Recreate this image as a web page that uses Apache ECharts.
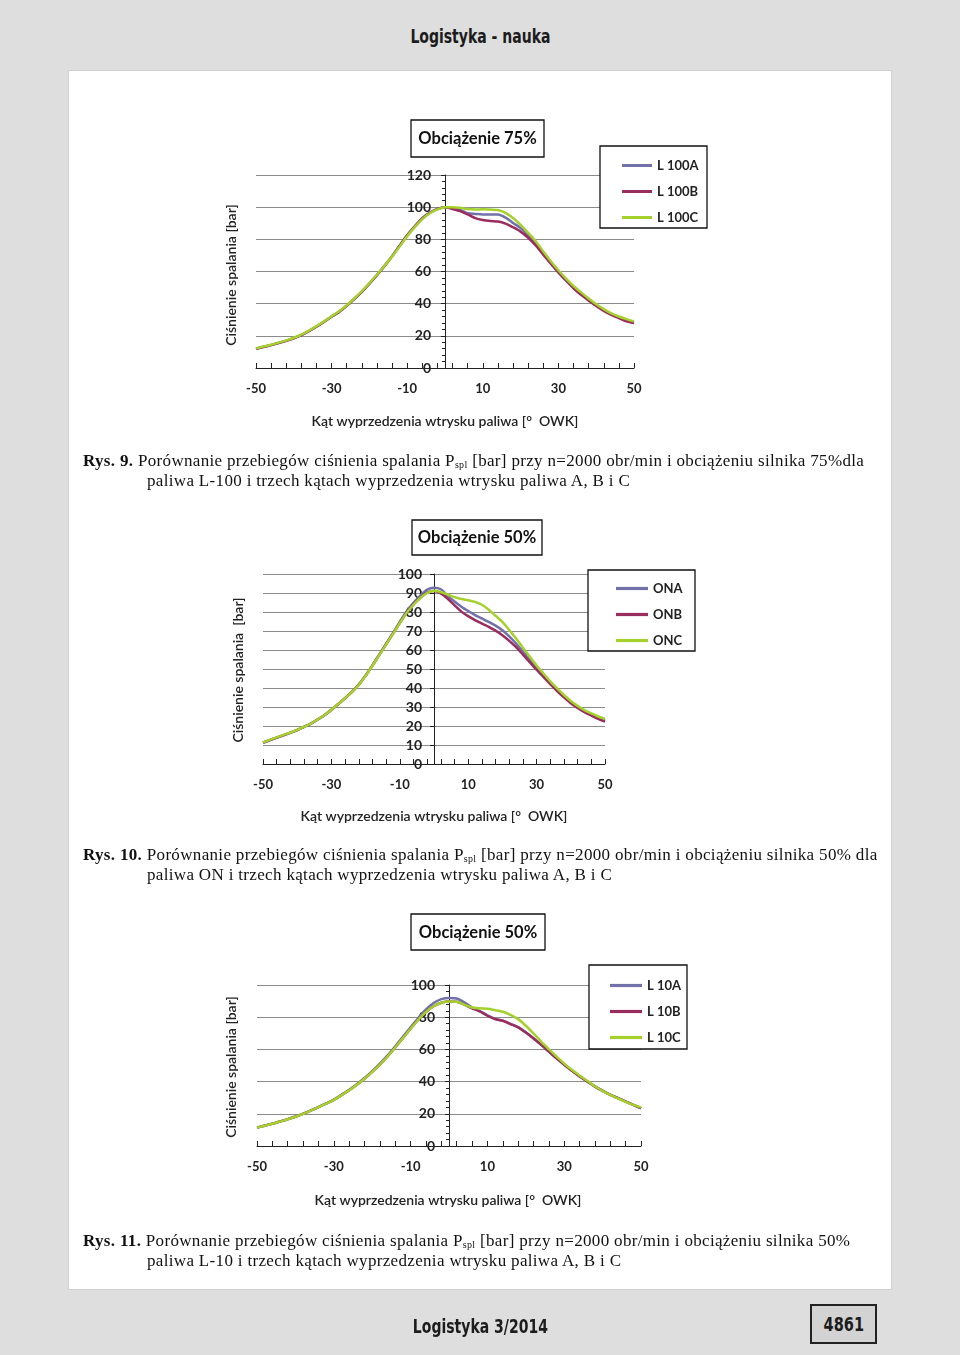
<!DOCTYPE html>
<html lang="pl">
<head>
<meta charset="UTF-8">
<title>Logistyka - nauka</title>
<script src="https://cdn.jsdelivr.net/npm/echarts@6/dist/echarts.min.js"></script>
<style>
  body { margin: 0; background: #dedede; }
  #page { position: relative; width: 960px; height: 1355px; overflow: hidden; }
  #panel { position: absolute; left: 68px; top: 70px; width: 822px; height: 1218px; background: #fff; border: 1px solid #d2d2d2; }
  #chart { position: absolute; left: 0; top: 0; width: 960px; height: 1355px; }
  .hdr { position: absolute; left: 0; width: 960px; text-align: center; font-family: "DejaVu Sans Condensed", "DejaVu Sans"; font-weight: bold; font-size: 19px; color: #1c1c1c; }
  .hdr span { display: inline-block; transform: scaleX(0.82); }
  .cap { position: absolute; font-family: "Liberation Serif", serif; font-size: 17px; letter-spacing: 0.33px; color: #111; white-space: nowrap; line-height: 20px; }
  .cap b { font-weight: bold; }
  .cap sub { font-size: 10px; vertical-align: -2px; }
  #pnum { position: absolute; left: 810px; top: 1304px; width: 63px; height: 36px; background: #d3d3d3; border: 2px solid #222;
          font-family: "DejaVu Sans Condensed", "DejaVu Sans"; font-weight: bold; font-size: 19px; line-height: 36px; text-align: center; color: #1c1c1c; }
  #pnum span { display: inline-block; transform: scaleX(0.85); }
</style>
</head>
<body>
<div id="page">
  <div id="panel"></div>
  <div class="hdr" style="top:25px"><span>Logistyka - nauka</span></div>
  <div id="chart"></div>

  <!-- podpisy rysunków -->
  <div class="cap" style="left:83px; top:451px"><b>Rys. 9.</b> Porównanie przebiegów ciśnienia spalania P<sub>spl</sub> [bar] przy n=2000 obr/min i obciążeniu silnika 75%dla</div>
  <div class="cap" style="left:147px; top:471px">paliwa L-100 i trzech kątach wyprzedzenia wtrysku paliwa A, B i C</div>

  <div class="cap" style="left:83px; top:845px"><b>Rys. 10.</b> Porównanie przebiegów ciśnienia spalania P<sub>spl</sub> [bar] przy n=2000 obr/min i obciążeniu silnika 50% dla</div>
  <div class="cap" style="left:147px; top:865px">paliwa ON i trzech kątach wyprzedzenia wtrysku paliwa A, B i C</div>

  <div class="cap" style="left:83px; top:1231px"><b>Rys. 11.</b> Porównanie przebiegów ciśnienia spalania P<sub>spl</sub> [bar] przy n=2000 obr/min i obciążeniu silnika 50%</div>
  <div class="cap" style="left:147px; top:1251px">paliwa L-10 i trzech kątach wyprzedzenia wtrysku paliwa A, B i C</div>

  <div class="hdr" style="top:1315px; left:0"><span>Logistyka 3/2014</span></div>
  <div id="pnum"><span>4861</span></div>
</div>

<script>
// kąt [° OWK], co 2 stopnie
var katy = [];
for (var k = -50; k <= 50; k += 2) katy.push(k);

// Rys. 9 - L-100, obciążenie 75%
var l100A = [12, 13.2, 14.3, 15.6, 17, 18.6, 20.5, 23, 25.8, 28.8, 32, 35, 38.8, 43, 47.5, 52.5, 57.8, 63.5, 69.5, 76, 82.5, 88, 93, 96.5, 98.8,
             100, 99.5, 98.3, 96.2, 95.8, 95.5, 95.5, 95.4, 93.5, 90.2, 87, 82.5, 77, 71, 65.3, 59.6, 54.6, 50, 46, 42.5, 39, 36, 33.5, 31.5, 29.5, 28];
var l100B = [11.9, 13.1, 14.2, 15.5, 16.9, 18.5, 20.4, 22.9, 25.7, 28.7, 31.9, 34.9, 38.7, 42.9, 47.4, 52.4, 57.7, 63.4, 69.5, 76.1, 82.6, 88.1, 93.1, 96.6, 98.9,
             100, 98.8, 97.5, 95.5, 93.2, 92, 91.4, 91.1, 89.8, 87.5, 84.8, 81, 76.2, 70.5, 64.8, 59.5, 54.4, 49.6, 45.5, 42, 38.5, 35.5, 33, 31, 29, 28];
var l100C = [12.2, 13.4, 14.5, 15.8, 17.2, 18.8, 20.7, 23.2, 26, 29, 32.2, 35.3, 39, 43.2, 47.8, 52.8, 58, 63.6, 69.4, 75.6, 82, 87.6, 92.6, 96.2, 98.6,
             100, 100, 99.6, 98.8, 98.5, 98.7, 98.5, 98.2, 96.5, 93.3, 89, 84, 78.8, 72.5, 66.4, 60.8, 55.6, 51, 47, 43.2, 39.6, 36.6, 34, 32, 30.4, 29];

// Rys. 10 - ON, obciążenie 50%
var onA = [11.1, 12.5, 13.8, 15.1, 16.4, 17.8, 19.5, 21.2, 23.4, 25.7, 28.5, 31.5, 34.6, 37.9, 41.8, 46.6, 51.9, 57.6, 63.3, 69, 74.8, 80.4, 84.8, 88.6, 91.8,
           92.8, 92, 88.5, 85.5, 82.8, 80.5, 78.4, 76.6, 74.8, 72.8, 70.4, 67.2, 63.4, 59.2, 55, 50.6, 46.6, 42.5, 38.8, 35.5, 32.6, 30, 27.8, 26, 24.3, 22.9];
var onB = [11.2, 12.6, 13.9, 15.2, 16.5, 17.9, 19.6, 21.3, 23.5, 25.8, 28.6, 31.6, 34.7, 38, 41.7, 46.5, 51.8, 57.4, 63, 68.6, 74.2, 79.6, 84, 87.5, 90.2,
           91, 89.8, 87, 83.5, 80.2, 77.8, 75.7, 73.9, 72.2, 70.2, 67.8, 64.8, 61.5, 57.6, 53.6, 49.6, 45.8, 42, 38.4, 35.1, 32, 29.5, 27.3, 25.5, 23.8, 22.3];
var onC = [11.3, 12.7, 14, 15.3, 16.6, 18, 19.6, 21.3, 23.5, 25.8, 28.6, 31.6, 34.6, 38, 41.6, 46.4, 51.7, 57.3, 62.9, 68.5, 74.1, 79.5, 83.8, 87.4, 90,
           91.2, 90.5, 89.2, 87.8, 86.8, 86.2, 85.3, 83.8, 81.2, 78, 74.8, 70.5, 66, 61.2, 56.4, 51.8, 47.6, 43.5, 39.8, 36.3, 33.2, 30.6, 28.4, 26.6, 25, 23.8];

// Rys. 11 - L-10, obciążenie 50%
var l10A = [11.5, 12.7, 13.9, 15.3, 16.7, 18.3, 20.1, 22.1, 24.2, 26.4, 28.8, 31.8, 34.9, 38.4, 42.2, 46.5, 51.1, 56.3, 62, 67.9, 73.8, 79.5, 84.8, 88.8, 91.2,
            92, 91.6, 89.2, 86, 83.8, 81.2, 79, 77.9, 75.9, 73.8, 70.7, 67, 63, 58.8, 54.6, 50.6, 46.9, 43.4, 40.2, 37.1, 34.4, 31.9, 29.8, 27.7, 25.6, 23.5];
var l10B = [11.4, 12.6, 13.8, 15.2, 16.6, 18.2, 20, 22, 24.1, 26.3, 28.6, 31.5, 34.6, 38, 41.8, 46, 50.5, 55.6, 61.2, 67, 72.8, 78.4, 83.2, 86.8, 89,
            89.8, 89.6, 87.8, 85.5, 83.6, 80.9, 78.8, 77.8, 75.7, 73.7, 70.5, 66.8, 62.8, 58.6, 54.4, 50.4, 46.7, 43.2, 40, 36.9, 34.2, 31.7, 29.7, 27.6, 25.5, 23.4];
var l10C = [11.4, 12.6, 13.8, 15.2, 16.6, 18.2, 20, 22, 24.1, 26.3, 28.6, 31.5, 34.6, 38, 41.8, 46, 50.5, 55.6, 61.2, 67, 72.8, 78.4, 83.2, 86.8, 89,
            89.8, 89.6, 87.8, 86, 85.5, 85.3, 84.4, 83.4, 81.5, 78.8, 74.7, 69.9, 64.9, 60.2, 55.6, 51.2, 47.3, 43.8, 40.5, 37.1, 34.2, 31.7, 29.5, 27.4, 25.5, 23.9];

var kolory = ['#7371a9', '#9a2d5f', '#a4d12b'];
var font = 'Lato';
var osX = 'Kąt wyprzedzenia wtrysku paliwa [°  OWK]';

function pary(ys) {
  return katy.map(function (x, i) { return [x, ys[i]]; });
}

var myChart = echarts.init(document.getElementById('chart'));

// wymiary trzech wykresów na stronie
var grids = [
  { left: 256, top: 175, width: 378, height: 193 },
  { left: 263, top: 574, width: 342, height: 190 },
  { left: 257, top: 985, width: 384, height: 161 }
];
var yMax = [120, 100, 100];
var yStep = [20, 10, 20];

var xAxes = [], yAxes = [];
for (var g = 0; g < 3; g++) {
  xAxes.push({
    gridIndex: g, type: 'value', min: -50, max: 50, interval: 20,
    axisLine: { lineStyle: { color: '#222', width: 1 } },
    axisTick: { inside: true, length: 5, lineStyle: { color: '#222' } },
    minorTick: { show: true, splitNumber: 5, length: 5, lineStyle: { color: '#222' } },
    splitLine: { show: false },
    axisLabel: { margin: 14, fontSize: 13, fontWeight: 'bold', color: '#222', fontFamily: font }
  });
  // os Y przesunieta na kat 0 (offset od lewej krawedzi siatki)
  yAxes.push({
    gridIndex: g, type: 'value', min: 0, max: yMax[g], interval: yStep[g],
    position: 'left', offset: -grids[g].width / 2,
    axisLine: { show: true, onZero: false, lineStyle: { color: '#222', width: 1 } },
    axisTick: { show: true, length: 4, lineStyle: { color: '#222' } },
    minorTick: { show: g != 1, splitNumber: 5, length: 3, lineStyle: { color: '#222' } },
    splitLine: { show: true, lineStyle: { color: '#8a8a8a', width: 1 } },
    axisLabel: { margin: g == 1 ? 12 : 14, fontSize: 14, fontWeight: 'bold', color: '#222', fontFamily: font }
  });
}

function seria(name, ys, g, c) {
  return {
    name: name, type: 'line', xAxisIndex: g, yAxisIndex: g,
    data: pary(ys), symbol: 'none', smooth: 0.3,
    lineStyle: { width: 2.5, color: kolory[c] }, itemStyle: { color: kolory[c] }
  };
}

function legenda(names, left, top, w) {
  return {
    data: names, orient: 'vertical', left: left, top: top,
    itemWidth: w, itemHeight: 14, itemGap: 13,
    icon: 'path://M0,0L30,0L30,3L0,3Z',
    textStyle: { fontSize: 13, fontWeight: 'bold', color: '#222', fontFamily: font }
  };
}

function ramka(x, y, w, h) {
  return { type: 'rect', shape: { x: x, y: y, width: w, height: h },
           style: { fill: '#fff', stroke: '#111', lineWidth: 1.3 }, z: 1 };
}
function tytul(t, x, y) {
  return { type: 'text', x: x, y: y, z: 2,
           style: { text: t, fill: '#111', font: 'bold 16.5px ' + font, textAlign: 'center', textVerticalAlign: 'middle' } };
}
function opis(t, x, y, rot) {
  return { type: 'text', x: x, y: y, rotation: rot ? Math.PI / 2 : 0, z: 2,
           style: { text: t, fill: '#222', font: '600 14px ' + font, textAlign: 'center', textVerticalAlign: 'middle' } };
}

var option = {
  animation: false,
  grid: grids,
  xAxis: xAxes,
  yAxis: yAxes,
  legend: [
    legenda(['L 100A', 'L 100B', 'L 100C'], 617, 154, 30),
    legenda(['ONA', 'ONB', 'ONC'], 611, 577, 32),
    legenda(['L 10A', 'L 10B', 'L 10C'], 605, 974, 32)
  ],
  series: [
    seria('L 100A', l100A, 0, 0), seria('L 100B', l100B, 0, 1), seria('L 100C', l100C, 0, 2),
    seria('ONA', onA, 1, 0), seria('ONB', onB, 1, 1), seria('ONC', onC, 1, 2),
    seria('L 10A', l10A, 2, 0), seria('L 10B', l10B, 2, 1), seria('L 10C', l10C, 2, 2)
  ],
  graphic: [
    ramka(411, 120, 133, 37), tytul('Obciążenie 75%', 477.5, 139),
    ramka(412, 520, 130, 35), tytul('Obciążenie 50%', 477, 538),
    ramka(411, 914, 134, 36), tytul('Obciążenie 50%', 478, 932.5),
    ramka(600, 146, 107, 82),
    ramka(588, 570, 107, 81),
    ramka(589, 965, 98, 84),
    opis('Ciśnienie spalania [bar]', 231, 275, true),
    opis('Ciśnienie spalania  [bar]', 238, 670, true),
    opis('Ciśnienie spalania [bar]', 231, 1067, true),
    opis(osX, 445, 421), opis(osX, 434, 816), opis(osX, 448, 1200)
  ]
};

myChart.setOption(option);
</script>
</body>
</html>
